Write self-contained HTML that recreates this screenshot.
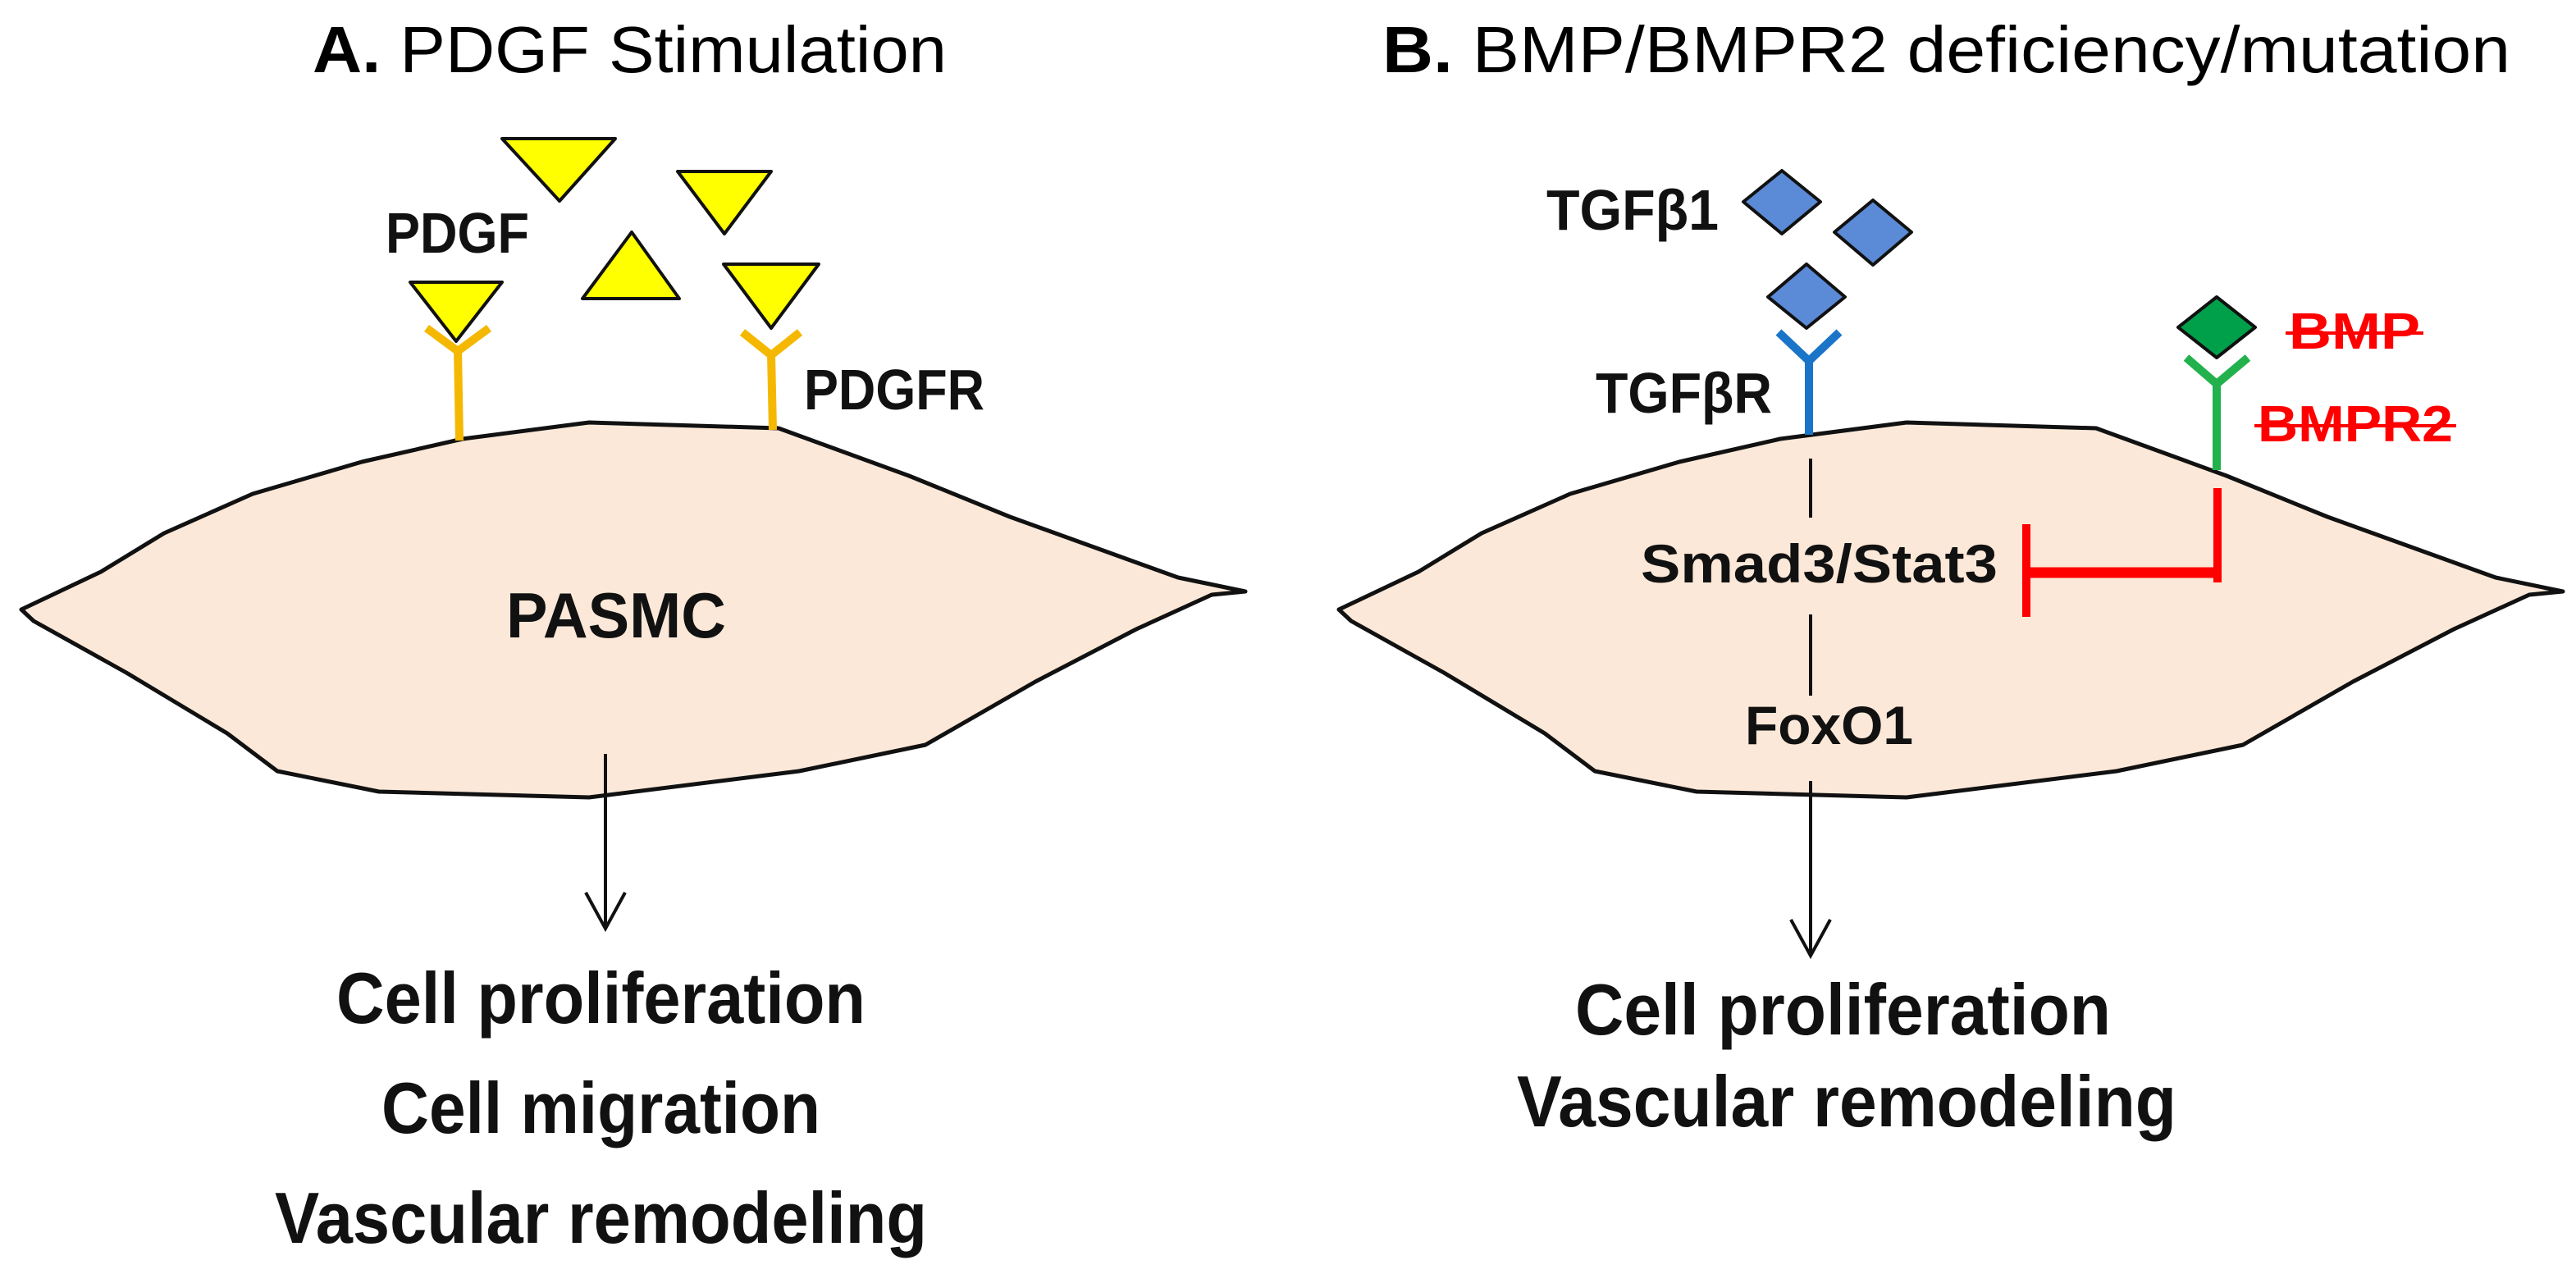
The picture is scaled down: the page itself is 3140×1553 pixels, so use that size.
<!DOCTYPE html>
<html><head><meta charset="utf-8"><style>html,body{margin:0;padding:0;background:#fff}svg{display:block}</style></head>
<body>
<svg width="3140" height="1553" viewBox="0 0 3140 1553" xmlns="http://www.w3.org/2000/svg" font-family="'Liberation Sans', sans-serif">
<defs>
<path id="cell" d="M26,743 L123,697 L200,650 L308,602 L441,563 L564,535 L718,515 L949,522 L1108,580 L1231,630 L1436,704 L1518,721 L1477,725 L1385,767 L1262,831 L1128,908 L974,940 L718,972 L462,965 L338,940 L277,894 L154,820 L41,757 Z"/>
</defs>
<!-- Panel A -->
<text x="381" y="88" font-size="80" textLength="773" lengthAdjust="spacingAndGlyphs"><tspan font-weight="bold">A.</tspan> PDGF Stimulation</text>
<use href="#cell" fill="#fce8d8" stroke="#111" stroke-width="5" stroke-linejoin="round"/>
<g fill="#ffff00" stroke="#111" stroke-width="4" stroke-linejoin="round">
<polygon points="612,169 750,169 682,245"/>
<polygon points="826,209 940,209 883,285"/>
<polygon points="770,283 710,364 828,364"/>
<polygon points="882,322 998,322 940,400"/>
<polygon points="500,344 612,344 556,416"/>
</g>
<g stroke="#f5b800" stroke-width="10" fill="none">
<polyline points="520,400 558,428 596,400"/><line x1="558" y1="426" x2="560" y2="537"/>
<polyline points="905,405 940,433 975,405"/><line x1="940" y1="431" x2="942" y2="524"/>
</g>
<g font-weight="bold" fill="#111">
<text x="470" y="308" font-size="70" textLength="175" lengthAdjust="spacingAndGlyphs">PDGF</text>
<text x="980" y="499" font-size="70" textLength="220" lengthAdjust="spacingAndGlyphs">PDGFR</text>
<text x="617" y="777" font-size="78" textLength="268" lengthAdjust="spacingAndGlyphs">PASMC</text>
<text x="410" y="1247" font-size="88" textLength="645" lengthAdjust="spacingAndGlyphs">Cell proliferation</text>
<text x="465" y="1381" font-size="88" textLength="535" lengthAdjust="spacingAndGlyphs">Cell migration</text>
<text x="335" y="1515" font-size="88" textLength="795" lengthAdjust="spacingAndGlyphs">Vascular remodeling</text>
</g>
<g stroke="#111" stroke-width="4" fill="none">
<line x1="738" y1="919" x2="738" y2="1132"/>
<polyline points="714,1088 738,1132 762,1088"/>
</g>
<!-- Panel B -->
<text x="1685" y="88" font-size="80" textLength="1375" lengthAdjust="spacingAndGlyphs"><tspan font-weight="bold">B.</tspan> BMP/BMPR2 deficiency/mutation</text>
<use href="#cell" x="1606" fill="#fce8d8" stroke="#111" stroke-width="5" stroke-linejoin="round"/>
<g fill="#5b8ad6" stroke="#111" stroke-width="4" stroke-linejoin="round">
<polygon points="2172,208 2219,246 2172,285 2125,246"/>
<polygon points="2283,244 2330,283 2283,323 2236,283"/>
<polygon points="2202,322 2249,362 2202,400 2155,362"/>
</g>
<polygon points="2702,362 2749,399 2702,436 2655,399" fill="#00a04a" stroke="#111" stroke-width="4" stroke-linejoin="round"/>
<g stroke="#1a75c8" stroke-width="10" fill="none">
<polyline points="2168,405 2205,440 2242,405"/><line x1="2205" y1="438" x2="2205" y2="530"/>
</g>
<g stroke="#22b14c" stroke-width="10" fill="none">
<polyline points="2665,436 2702,468 2740,436"/><line x1="2702" y1="466" x2="2702" y2="573"/>
</g>
<g stroke="#111" stroke-width="4">
<line x1="2207" y1="559" x2="2207" y2="631"/>
<line x1="2207" y1="749" x2="2207" y2="848"/>
<line x1="2207" y1="952" x2="2207" y2="1165"/>
</g>
<polyline points="2183,1121 2207,1165 2231,1121" stroke="#111" stroke-width="4" fill="none"/>
<g stroke="#ff0000" fill="none">
<line x1="2703" y1="595" x2="2703" y2="710" stroke-width="10"/>
<line x1="2470" y1="698" x2="2708" y2="698" stroke-width="13"/>
<line x1="2470" y1="639" x2="2470" y2="752" stroke-width="10"/>
</g>
<g font-weight="bold" fill="#111">
<text x="1885" y="280" font-size="70" textLength="210" lengthAdjust="spacingAndGlyphs">TGFβ1</text>
<text x="1945" y="503" font-size="70" textLength="215" lengthAdjust="spacingAndGlyphs">TGFβR</text>
<text x="2000" y="710" font-size="66" textLength="435" lengthAdjust="spacingAndGlyphs">Smad3/Stat3</text>
<text x="2127" y="907" font-size="66" textLength="205" lengthAdjust="spacingAndGlyphs">FoxO1</text>
<text x="1920" y="1261" font-size="88" textLength="653" lengthAdjust="spacingAndGlyphs">Cell proliferation</text>
<text x="1849" y="1373" font-size="88" textLength="804" lengthAdjust="spacingAndGlyphs">Vascular remodeling</text>
</g>
<g font-weight="bold" fill="#ff0000">
<text x="2790" y="425" font-size="62" textLength="160" lengthAdjust="spacingAndGlyphs">BMP</text>
<text x="2752" y="538" font-size="62" textLength="238" lengthAdjust="spacingAndGlyphs">BMPR2</text>
</g>
<g stroke="#ff0000" stroke-width="4">
<line x1="2786" y1="406" x2="2954" y2="406"/>
<line x1="2748" y1="519" x2="2994" y2="519"/>
</g>
</svg>
</body></html>
